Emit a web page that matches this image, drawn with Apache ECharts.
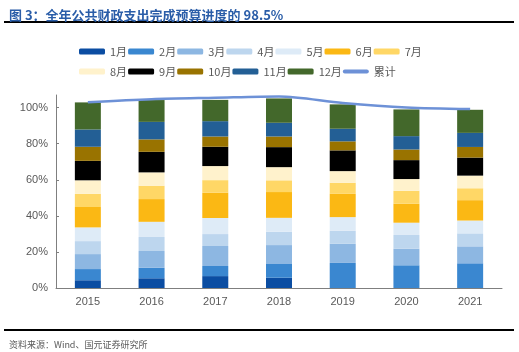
<!DOCTYPE html>
<html>
<head>
<meta charset="utf-8">
<script src="https://cdn.jsdelivr.net/npm/echarts@6/dist/echarts.min.js"></script>
<style>
  html, body { margin: 0; padding: 0; background: #fff; }
  #chart { width: 519px; height: 352px; }
</style>
</head>
<body>
<div id="chart"></div>
<script>
////--------------------------------------------------------------------////
const years = ['2015', '2016', '2017', '2018', '2019', '2020', '2021'];
const month_names = ['1月', '2月', '3月', '4月', '5月', '6月', '7月', '8月', '9月', '10月', '11月', '12月'];
// each month's share of the yearly budget, %
const m1  = [4.3, 5.4, 6.6, 5.7, 0, 0, 0];
const m2  = [6.2, 5.8, 5.6, 7.6, 13.9, 12.6, 13.7];
const m3  = [8.3, 9.3, 11.1, 10.5, 10.6, 9.2, 9.4];
const m4  = [7.2, 7.8, 6.6, 7.4, 7.2, 7.6, 7.2];
const m5  = [7.6, 8.4, 8.9, 7.7, 7.6, 6.8, 7.1];
const m6  = [11.3, 12.6, 14.0, 14.3, 12.9, 10.5, 11.3];
const m7  = [7.3, 7.4, 7.0, 6.5, 6.1, 7.2, 6.6];
const m8  = [7.5, 7.4, 7.8, 7.3, 6.5, 6.5, 7.0];
const m9  = [10.8, 11.4, 10.7, 11.1, 11.5, 10.5, 10.0];
const m10 = [7.8, 6.9, 5.7, 5.9, 5.0, 5.9, 5.9];
const m11 = [9.6, 9.7, 8.5, 7.6, 7.0, 7.4, 7.8];
const m12 = [15.0, 12.1, 11.8, 13.5, 13.5, 14.8, 12.8];
const total = [103.0, 104.7, 105.5, 106.2, 102.6, 100.1, 99.2];
const y_ticks = [0, 20, 40, 60, 80, 100];
////--------------------------------------------------------------------////
const month_data = [m1, m2, m3, m4, m5, m6, m7, m8, m9, m10, m11, m12];
const month_colors = ['#0B4DA2', '#3A87D0', '#8DB7E2', '#BDD6EE', '#DEEBF7', '#FBB814',
                      '#FFD766', '#FFF2CC', '#000000', '#997300', '#235F95', '#43682B'];
const text_gray = '#595959';
const line_color = '#6D91D7';

const series = [];
for (let i = 0; i < 12; i++) {
    series.push({
        name: month_names[i],
        type: 'bar',
        stack: 'all',
        barWidth: 26,
        itemStyle: {color: month_colors[i]},
        data: month_data[i]
    });
}
series.push({
    name: '累计',
    type: 'line',
    smooth: 0.3,
    symbol: 'none',
    lineStyle: {color: line_color, width: 2.5},
    itemStyle: {color: line_color},
    z: 5,
    data: total
});

const legend_base = {
    left: 79,
    padding: 0,
    itemWidth: 26,
    itemHeight: 6,
    itemGap: 1,
    textStyle: {color: text_gray, fontSize: 11, width: 22, fontFamily: 'Noto Sans CJK SC'}
};
const line_icon = 'path://M2,0 L24,0 A2,2 0 0 1 24,4 L2,4 A2,2 0 0 1 2,0 Z';

const option = {
    animation: false,
    title: [
        {
            text: '图 3：全年公共财政支出完成预算进度的 98.5%',
            left: 4, top: 4,
            textStyle: {color: '#2A5DA8', fontSize: 13, fontWeight: 'bold', fontFamily: 'Noto Sans CJK SC'}
        },
        {
            text: '资料来源：Wind、国元证券研究所',
            left: 4, top: 335,
            textStyle: {color: text_gray, fontSize: 9, fontWeight: 'normal', fontFamily: 'Noto Sans CJK SC'}
        }
    ],
    graphic: [
        {type: 'rect', shape: {x: 4, y: 21, width: 510, height: 2}, style: {fill: '#000'}},
        {type: 'rect', shape: {x: 4, y: 329, width: 510, height: 2}, style: {fill: '#000'}}
    ],
    legend: [
        Object.assign({top: 46, data: month_names.slice(0, 7)}, legend_base),
        Object.assign({top: 66, data: month_names.slice(7).concat([{name: '累计', icon: line_icon}])}, legend_base)
    ],
    grid: {left: 56, right: 17, top: 95, bottom: 64},
    xAxis: {
        type: 'category',
        data: years,
        axisLine: {lineStyle: {color: '#7F7F7F', width: 1}},
        axisTick: {inside: true, length: 3, lineStyle: {color: '#7F7F7F'}},
        axisLabel: {color: text_gray, fontSize: 11, margin: 8}
    },
    yAxis: {
        type: 'value',
        min: 0,
        max: 107,
        interval: 20,
        splitLine: {show: false},
        axisLine: {show: true, lineStyle: {color: '#7F7F7F', width: 1}},
        axisTick: {show: true, inside: true, length: 3, lineStyle: {color: '#7F7F7F'}},
        axisLabel: {
            color: text_gray, fontSize: 11, margin: 8, showMaxLabel: false,
            formatter: function (v) { return y_ticks.indexOf(v) >= 0 ? v + '%' : ''; }
        }
    },
    series: series
};

const chart = echarts.init(document.getElementById('chart'), null, {renderer: 'canvas'});
chart.setOption(option);
window.addEventListener('resize', chart.resize);
</script>
</body>
</html>
